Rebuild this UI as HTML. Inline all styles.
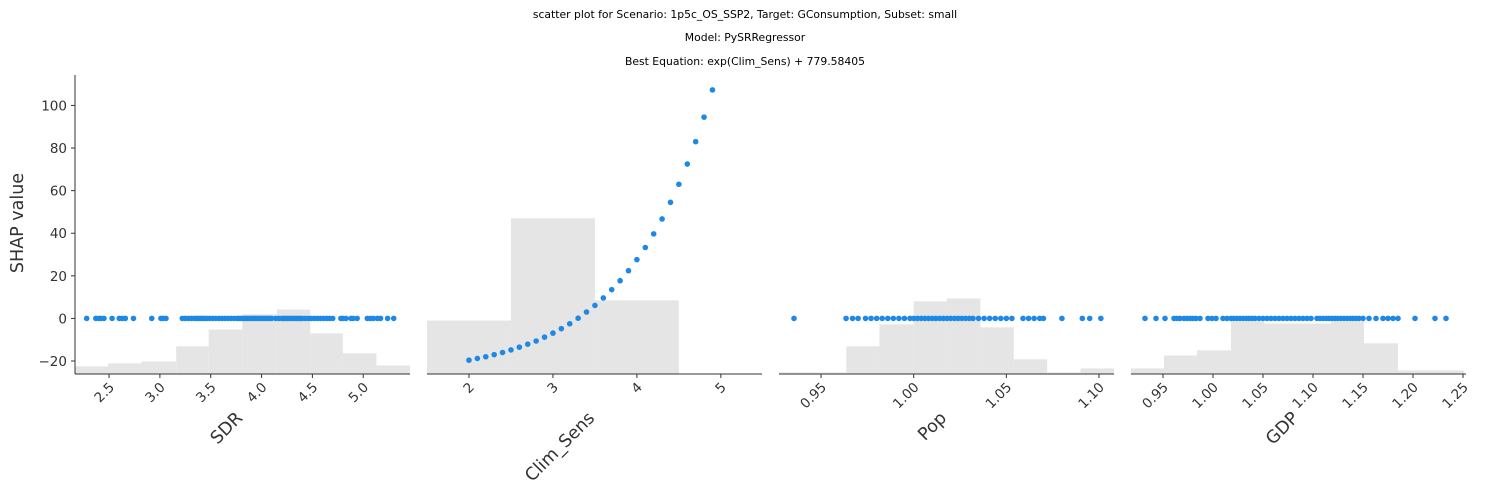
<!DOCTYPE html>
<html><head><meta charset="utf-8"><style>
body{margin:0;background:#fff;}
svg text{font-family:"DejaVu Sans","Liberation Sans",sans-serif;}
</style></head><body>
<svg id="chart" width="1490" height="495" xmlns="http://www.w3.org/2000/svg">
<text x="745" y="18" font-size="10.8" text-anchor="middle" fill="#000">scatter plot for Scenario: 1p5c_OS_SSP2, Target: GConsumption, Subset: small</text>
<text x="745" y="41" font-size="10.8" text-anchor="middle" fill="#000">Model: PySRRegressor</text>
<text x="745" y="65" font-size="10.8" text-anchor="middle" fill="#000">Best Equation: exp(Clim_Sens) + 779.58405</text>
<text transform="translate(23,223) rotate(-90)" font-size="17.5" text-anchor="middle" fill="#333">SHAP value</text>
<g id="panels"></g>
</svg>
<script>
// Shared y scale
const yTicks = [-20, 0, 20, 40, 60, 80, 100];
// Panel names
const features = ["SDR", "Clim_Sens", "Pop", "GDP"];
// x ticks per panel
const xTicksSDR = [2.5, 3.0, 3.5, 4.0, 4.5, 5.0];
const xTicksClim = [2, 3, 4, 5];
const xTicksPop = [0.95, 1.00, 1.05, 1.10];
const xTicksGDP = [0.95, 1.00, 1.05, 1.10, 1.15, 1.20, 1.25];
// histogram bin edges and heights (in y-data units, bar top)
const histEdgesSDR = [2.165, 2.49, 2.82, 3.16, 3.48, 3.81, 4.15, 4.48, 4.80, 5.13, 5.46];
const histTopsSDR = [-22.5, -21.1, -20.2, -13.1, -5.2, 1.9, 4.2, -7.0, -16.4, -22.1];
const histEdgesClim = [1.5, 2.5, 3.5, 4.5, 5.5];
const histTopsClim = [-1.0, 47.0, 8.5, -26.1];
const histEdgesPop = [0.9273, 0.945, 0.9636, 0.9815, 1.0, 1.0179, 1.036, 1.054, 1.072, 1.090, 1.1081];
const histTopsPop = [-25.4, -25.4, -13.1, -2.8, 8.0, 9.4, -4.2, -19.2, -25.4, -23.5];
const histEdgesGDP = [0.918, 0.951, 0.984, 1.018, 1.051, 1.085, 1.118, 1.151, 1.185, 1.218, 1.251];
const histTopsGDP = [-23.5, -17.4, -15.0, -1.4, -2.4, -2.4, -1.4, -11.7, -24.4, -24.4];
// scatter x values
const ptsSDR = [2.28,2.37,2.40,2.42,2.45,2.53,2.60,2.63,2.66,2.74,2.92,3.01,3.03,3.06,
 3.22,3.25,3.28,3.31,3.34,3.36,3.38,3.40,3.42,3.44,3.46,3.49,3.52,3.55,3.58,3.61,3.64,3.67,3.70,3.73,3.76,3.78,3.80,3.82,3.84,3.86,3.88,3.90,3.92,3.94,3.96,3.98,4.00,4.02,4.04,4.06,4.08,4.10,4.14,4.17,4.20,4.22,4.24,4.26,4.28,4.30,4.32,4.34,4.36,4.38,4.40,4.43,4.46,4.49,4.52,4.55,4.58,4.61,4.64,4.67,4.70,
 4.78,4.80,4.83,4.88,4.90,4.94,5.04,5.07,5.10,5.14,5.17,5.24,5.30];
const ptsClimX = [2.0,2.1,2.2,2.3,2.4,2.5,2.6,2.7,2.8,2.9,3.0,3.1,3.2,3.3,3.4,3.5,3.6,3.7,3.8,3.9,4.0,4.1,4.2,4.3,4.4,4.5,4.6,4.7,4.8,4.9];
const ptsClimY = [-19.6,-18.8,-18.0,-17.0,-16.0,-14.8,-13.5,-12.1,-10.6,-8.8,-6.9,-4.8,-2.5,0.1,3.0,6.1,9.6,13.5,17.7,22.4,27.6,33.3,39.7,46.7,54.5,63.0,72.5,83.0,94.5,107.3];
const ptsPop = [0.9354,0.9635,0.967,0.970,0.974,0.977,0.980,0.983,0.986,0.989,0.992,0.995,0.998,1.000,1.002,1.004,1.006,1.008,1.010,1.012,1.014,1.016,1.018,1.020,1.022,1.024,1.026,1.028,1.030,1.032,1.035,1.038,1.041,1.044,1.047,1.050,1.053,1.059,1.062,1.065,1.068,1.070,1.080,1.091,1.095,1.101];
const ptsGDP = [0.932,0.943,0.952,0.961,0.964,0.967,0.971,0.974,0.977,0.980,0.983,0.987,0.995,0.999,1.003,1.010,1.014,1.018,1.021,1.024,1.027,1.030,1.033,1.036,1.039,1.042,1.046,1.050,1.054,1.058,1.062,1.066,1.070,1.074,1.078,1.082,1.086,1.090,1.094,1.098,1.104,1.107,1.110,1.113,1.116,1.119,1.122,1.125,1.128,1.131,1.134,1.137,1.140,1.143,1.146,1.150,1.156,1.163,1.170,1.175,1.180,1.185,1.202,1.222,1.233];

const NS = "http://www.w3.org/2000/svg";
const yTop = 75, yBot = 374, yMin = -26.1, yMax = 114.3;
function yS(v){ return yBot - (v - yMin) / (yMax - yMin) * (yBot - yTop); }
const panelDefs = [
 {name:"SDR", left:75, right:410, xmin:2.165, xmax:5.46, ticks:xTicksSDR, dec:1, edges:histEdgesSDR, tops:histTopsSDR, px:ptsSDR, py:null},
 {name:"Clim_Sens", left:427, right:762, xmin:1.5, xmax:5.49, ticks:xTicksClim, dec:0, edges:histEdgesClim, tops:histTopsClim, px:ptsClimX, py:ptsClimY},
 {name:"Pop", left:779, right:1114, xmin:0.9273, xmax:1.1081, ticks:xTicksPop, dec:2, edges:histEdgesPop, tops:histTopsPop, px:ptsPop, py:null},
 {name:"GDP", left:1131, right:1466, xmin:0.918, xmax:1.253, ticks:xTicksGDP, dec:2, edges:histEdgesGDP, tops:histTopsGDP, px:ptsGDP, py:null}
];
const root = document.getElementById("panels");
function mk(tag, attrs){ const e = document.createElementNS(NS, tag); for (const k in attrs) e.setAttribute(k, attrs[k]); return e; }
panelDefs.forEach((p, pi) => {
  const g = mk("g", {});
  
  
  root.appendChild(g);
  const xS = v => p.left + (v - p.xmin) / (p.xmax - p.xmin) * (p.right - p.left);
  for (let i = 0; i < p.tops.length; i++) {
    const x0 = Math.max(p.left, xS(p.edges[i])), x1 = Math.min(p.right, xS(p.edges[i+1]));
    const yt = yS(p.tops[i]);
    const r = mk("rect", {x:x0, y:yt, width:Math.max(0,x1-x0), height:Math.max(0,yBot-yt), fill:"#e5e5e5"});
    
    
    g.appendChild(r);
  }
  p.px.forEach((v, i) => {
    const yv = p.py ? p.py[i] : 0;
    const c = mk("circle", {cx:xS(v), cy:yS(yv), r:2.8, fill:"#1E88E5"});
    
    
    g.appendChild(c);
  });
  const ax = mk("line", {x1:p.left, x2:p.right, y1:yBot, y2:yBot, stroke:"#333", "stroke-width":1});
  
  
  g.appendChild(ax);
  p.ticks.forEach(t => {
    const x = xS(t);
    const tk = mk("line", {x1:x, x2:x, y1:yBot, y2:yBot+4, stroke:"#333", "stroke-width":1});
    
    
    g.appendChild(tk);
    const tx = mk("text", {transform:`translate(${x+6},${yBot+14}) rotate(-45)`, "font-size":13.5, "text-anchor":"end", fill:"#333"});
    tx.textContent = t.toFixed(p.dec);
    
    
    g.appendChild(tx);
  });
  const cx = (p.left + p.right) / 2;
  const title = mk("text", {transform:`translate(${cx+1},${yBot+45}) rotate(-45)`, "font-size":17.5, "text-anchor":"end", fill:"#333"});
  title.textContent = p.name;
  
  
  g.appendChild(title);
  if (pi === 0) {
    const yl = mk("line", {x1:p.left, x2:p.left, y1:yTop, y2:yBot, stroke:"#333", "stroke-width":1});
    
    
    g.appendChild(yl);
    yTicks.forEach(t => {
      const y = yS(t);
      const tk = mk("line", {x1:p.left-4, x2:p.left, y1:y, y2:y, stroke:"#333", "stroke-width":1});
      
      
      g.appendChild(tk);
      const tx = mk("text", {x:p.left-8, y:y+5, "font-size":13.5, "text-anchor":"end", fill:"#333"});
      tx.textContent = (t < 0 ? "\u2212" + Math.abs(t) : String(t));
      
      
      g.appendChild(tx);
    });
  }
});
</script>
</body></html>
